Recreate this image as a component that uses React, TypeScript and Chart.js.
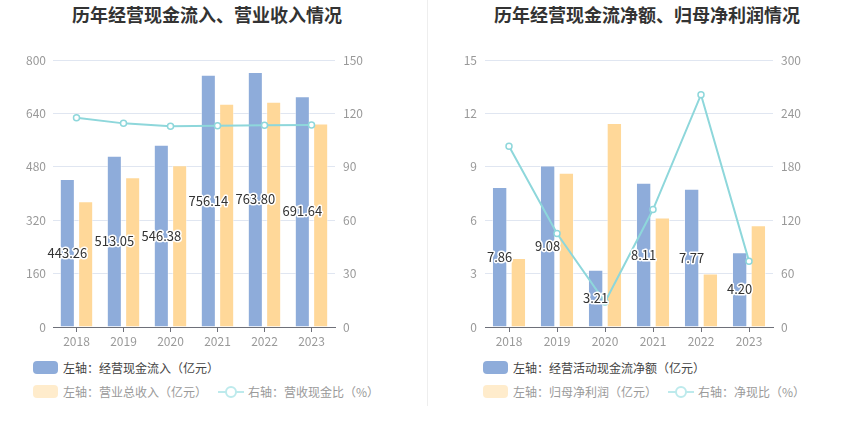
import React, { useEffect, useRef } from "react";
import { Chart, registerables } from "chart.js";

Chart.register(...registerables);

// ---------- data ----------
const years = ["2018", "2019", "2020", "2021", "2022", "2023"];

// left chart
const cashInflow = [443.26, 513.05, 546.38, 756.14, 763.8, 691.64];
const totalRevenue = [377, 449, 485, 669, 675, 610];
const cashRevenueRatio = [117.6, 114.4, 112.8, 113.0, 113.3, 113.5];
const leftAxisA = [0, 800, 160]; // min, max, step
const rightAxisA = [0, 150, 30];

// right chart
const netOperatingCash = [7.86, 9.08, 3.21, 8.11, 7.77, 4.2];
const netProfit = [3.88, 8.66, 11.46, 6.15, 3.0, 5.72];
const netCashRatio = [203, 105, 28, 132, 261, 74];
const leftAxisB = [0, 15, 3];
const rightAxisB = [0, 300, 60];

const titleA = "历年经营现金流入、营业收入情况";
const titleB = "历年经营现金流净额、归母净利润情况";
const legendA = ["左轴：经营现金流入（亿元）", "左轴：营业总收入（亿元）", "右轴：营收现金比（%）"];
const legendB = ["左轴：经营活动现金流净额（亿元）", "左轴：归母净利润（亿元）", "右轴：净现比（%）"];

// ---------- styles ----------
const BLUE = "#8EACDA";
const YELLOW = "#FFD899";
const TEAL = "#8ED7DB";
const FONT = '"Noto Sans CJK SC", "Noto Sans", sans-serif';

type PanelProps = {
  left: number;
  width: number;
  bars1: number[];
  bars2: number[];
  line: number[];
  axL: number[];
  axR: number[];
  leftW: number;
  rightW: number;
  padL: number;
  padR: number;
};

function ChartPanel(p: PanelProps) {
  const ref = useRef<HTMLCanvasElement | null>(null);
  useEffect(() => {
    if (!ref.current) return;
    const labelPlugin = {
      id: "barLabels",
      afterDatasetsDraw(chart: any) {
        const meta = chart.getDatasetMeta(0);
        const ctx = chart.ctx;
        ctx.save();
        ctx.font = "13px " + FONT;
        ctx.textAlign = "center";
        ctx.textBaseline = "middle";
        ctx.lineWidth = 3;
        ctx.lineJoin = "round";
        ctx.strokeStyle = "#fff";
        ctx.fillStyle = "#333";
        meta.data.forEach((el: any, i: number) => {
          const { x, y, base } = el.getProps(["x", "y", "base"], true);
          const cy = (y + base) / 2;
          const t = p.bars1[i].toFixed(2);
          ctx.strokeText(t, x, cy);
          ctx.fillText(t, x, cy);
        });
        ctx.restore();
      },
    };
    const chart = new Chart(ref.current, {
      type: "bar",
      data: {
        labels: years,
        datasets: [
          {
            type: "bar",
            data: p.bars1,
            backgroundColor: BLUE,
            borderColor: "rgba(255,255,255,0.5)",
            borderWidth: 1,
            yAxisID: "y",
            order: 2,
            categoryPercentage: 0.78,
            barPercentage: 0.82,
          },
          {
            type: "bar",
            data: p.bars2,
            backgroundColor: YELLOW,
            borderColor: "rgba(255,255,255,0.5)",
            borderWidth: 1,
            yAxisID: "y",
            order: 2,
            categoryPercentage: 0.78,
            barPercentage: 0.82,
          },
          {
            type: "line",
            data: p.line,
            borderColor: TEAL,
            borderWidth: 2,
            pointRadius: 3,
            pointBackgroundColor: "#fff",
            pointBorderColor: TEAL,
            pointBorderWidth: 1.5,
            yAxisID: "y1",
            order: 0,
            tension: 0,
          } as any,
        ],
      },
      options: {
        animation: false,
        responsive: true,
        maintainAspectRatio: false,
        layout: { padding: { top: 20, left: 0, right: 0, bottom: 0 } },
        plugins: { legend: { display: false }, tooltip: { enabled: false } },
        scales: {
          x: {
            grid: {
              display: true,
              drawOnChartArea: false,
              drawTicks: true,
              tickLength: 5,
              color: "#6E7079",
              offset: false,
            },
            border: { display: true, color: "#6E7079" },
            ticks: { color: "#999", font: { size: 12, family: FONT }, padding: 2 },
            afterFit: (s: any) => {
              s.height = 28;
            },
          },
          y: {
            position: "left",
            min: p.axL[0],
            max: p.axL[1],
            ticks: { stepSize: p.axL[2], color: "#999", font: { size: 12, family: FONT }, padding: p.padL },
            grid: { color: "#E0E6F1", drawTicks: false },
            border: { display: false },
            afterFit: (s: any) => {
              s.width = p.leftW;
            },
          },
          y1: {
            position: "right",
            min: p.axR[0],
            max: p.axR[1],
            ticks: { stepSize: p.axR[2], color: "#999", font: { size: 12, family: FONT }, padding: p.padR },
            grid: { drawOnChartArea: false, drawTicks: false },
            border: { display: false },
            afterFit: (s: any) => {
              s.width = p.rightW;
            },
          },
        },
      } as any,
      plugins: [labelPlugin],
    });
    return () => chart.destroy();
  }, []);
  return (
    <div style={{ position: "absolute", left: p.left, top: 40, width: p.width, height: 315 }}>
      <canvas ref={ref} />
    </div>
  );
}

function LineIcon({ left, cy }: { left: number; cy: number }) {
  return (
    <svg
      width={26}
      height={14}
      style={{ position: "absolute", left, top: cy - 7 }}
      viewBox="0 0 26 14"
    >
      <line x1={0} y1={7} x2={26} y2={7} stroke="#BDEAEC" strokeWidth={2} />
      <circle cx={13} cy={7} r={5} fill="#fff" stroke="#BDEAEC" strokeWidth={2} />
    </svg>
  );
}

function Legend({ x, items, x2, x3 }: { x: number; items: string[]; x2: number; x3: number }) {
  const txt = (left: number, cy: number, s: string, color: string) => (
    <div
      style={{
        position: "absolute",
        left,
        top: cy - 8,
        height: 16,
        lineHeight: "16px",
        fontSize: 12,
        color,
        whiteSpace: "nowrap",
      }}
    >
      {s}
    </div>
  );
  return (
    <>
      <div style={{ position: "absolute", left: x, top: 361, width: 25, height: 13, borderRadius: 4, background: BLUE }} />
      {txt(x + 30, 368, items[0], "#444")}
      <div style={{ position: "absolute", left: x, top: 385, width: 25, height: 13, borderRadius: 4, background: "#FFECCC" }} />
      {txt(x + 30, 392, items[1], "#9a9a9a")}
      <LineIcon left={x2} cy={392} />
      {txt(x3, 392, items[2], "#9a9a9a")}
    </>
  );
}

export default function App() {
  return (
    <div
      style={{
        position: "absolute",
        left: 0,
        top: 0,
        width: 850,
        height: 437,
        background: "#fff",
        fontFamily: FONT,
        overflow: "hidden",
      }}
    >
      <div
        style={{
          position: "absolute",
          left: 0,
          width: 414,
          top: 4,
          textAlign: "center",
          fontSize: 18,
          fontWeight: "bold",
          color: "#333",
          lineHeight: "20px",
        }}
      >
        {titleA}
      </div>
      <div
        style={{
          position: "absolute",
          left: 437,
          width: 420,
          top: 4,
          textAlign: "center",
          fontSize: 18,
          fontWeight: "bold",
          color: "#333",
          lineHeight: "20px",
        }}
      >
        {titleB}
      </div>
      <div style={{ position: "absolute", left: 427, top: 0, width: 1, height: 406, background: "#EEEEEE" }} />
      <ChartPanel
        left={0}
        width={425}
        bars1={cashInflow}
        bars2={totalRevenue}
        line={cashRevenueRatio}
        axL={leftAxisA}
        axR={rightAxisA}
        leftW={53}
        rightW={90}
        padL={7}
        padR={8}
      />
      <ChartPanel
        left={427}
        width={423}
        bars1={netOperatingCash}
        bars2={netProfit}
        line={netCashRatio}
        axL={leftAxisB}
        axR={rightAxisB}
        leftW={58}
        rightW={77}
        padL={8}
        padR={8}
      />
      <Legend x={33} items={legendA} x2={218} x3={248} />
      <Legend x={483} items={legendB} x2={668} x3={698} />
    </div>
  );
}
